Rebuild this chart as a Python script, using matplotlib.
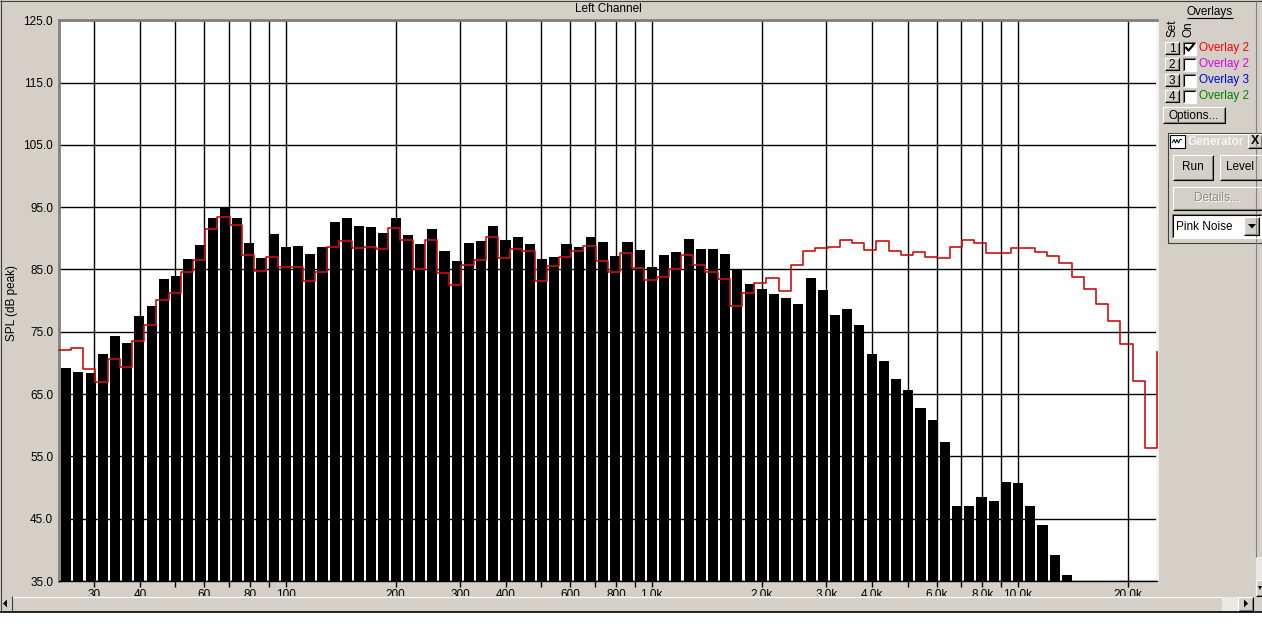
import numpy as np
import matplotlib
matplotlib.use("Agg")
from matplotlib import pyplot as plt
from matplotlib.patches import Rectangle, Polygon
from matplotlib.ticker import NullFormatter

W, H = 1262, 637
GRAY = "#d4d0c8"
DARK = "#808080"

# 1/30-decade bands starting at 24 Hz
band_start_hz = 24.0
bands_per_decade = 30

# measured level per band (dB peak), bars stop at ~13 kHz
spl_bars = [
    69.2, 68.6, 68.4, 71.4, 74.3, 73.2, 77.5, 79.1, 83.4, 84.0,
    86.7, 88.9, 93.3, 95.0, 93.3, 89.2, 86.8, 90.7, 88.6, 88.8,
    87.5, 88.6, 92.6, 93.3, 92.0, 91.8, 90.8, 93.3, 90.5, 89.1,
    91.5, 88.0, 86.4, 89.2, 89.6, 92.0, 89.7, 90.2, 89.1, 86.7,
    87.0, 89.1, 88.6, 90.2, 89.4, 87.2, 89.4, 88.1, 85.4, 87.4,
    87.8, 89.9, 88.3, 88.3, 87.5, 85.0, 82.6, 81.8, 81.1, 80.4,
    79.5, 83.6, 81.7, 77.7, 78.7, 76.1, 71.4, 70.3, 67.4, 65.7,
    62.8, 60.8, 57.3, 47.0, 47.0, 48.5, 47.8, 50.9, 50.7, 47.0,
    44.0, 39.2, 36.0,
]

# overlay 1 (red step trace), one value per band edge
overlay_1 = [
    72.0, 72.4, 69.0, 66.9, 70.7, 69.3, 73.6, 76.1, 80.1, 81.2,
    84.6, 86.5, 91.5, 93.5, 92.1, 87.3, 84.7, 87.0, 85.4, 85.4,
    83.1, 84.6, 88.6, 89.6, 88.4, 88.6, 88.3, 91.6, 89.7, 85.0,
    89.7, 84.4, 82.5, 85.8, 86.5, 90.2, 86.8, 88.3, 88.0, 83.1,
    85.5, 87.0, 88.0, 88.7, 86.3, 84.6, 87.6, 85.2, 83.3, 83.8,
    85.1, 87.4, 85.7, 84.6, 83.4, 79.1, 81.3, 82.8, 83.6, 81.5,
    85.8, 88.0, 88.4, 88.6, 89.7, 89.2, 88.1, 89.5, 87.9, 87.4,
    87.8, 87.0, 86.8, 88.6, 89.8, 89.2, 87.6, 87.6, 88.4, 88.4,
    87.8, 87.1, 86.0, 83.8, 81.8, 79.4, 76.8, 73.0, 67.1, 56.3,
    71.8,
]

tick_major = [30, 40, 60, 80, 100, 200, 300, 400, 600, 800,
              1000, 2000, 3000, 4000, 6000, 8000, 10000, 20000]
tick_labels = ["30", "40", "60", "80", "100", "200", "300", "400", "600", "800",
               "1.0k", "2.0k", "3.0k", "4.0k", "6.0k", "8.0k", "10.0k", "20.0k"]
tick_minor = [50, 70, 90, 500, 700, 900, 5000, 7000, 9000]
y_ticks = [35, 45, 55, 65, 75, 85, 95, 105, 115, 125]

overlay_names = ["Overlay 2", "Overlay 2", "Overlay 3", "Overlay 2"]
overlay_colors = ["#ff0000", "#e000e0", "#0000e0", "#008000"]
overlay_on = [True, False, False, False]

plt.rcParams["font.family"] = ["Liberation Sans", "DejaVu Sans"]
plt.rcParams["font.size"] = 8.5

fig = plt.figure(figsize=(W / 100, H / 100), dpi=100, facecolor=GRAY)

x_left, x_right, y_top, y_bot = 58.7, 1157.0, 20.3, 581.0
ax = fig.add_axes([x_left / W, 1 - y_bot / H, (x_right - x_left) / W, (y_bot - y_top) / H])
ax.set_facecolor("white")

edges = band_start_hz * 10 ** (np.arange(len(overlay_1)) / bands_per_decade)
step = 10 ** (1 / bands_per_decade)
lefts = edges[:len(spl_bars)] * step ** 0.2
rights = edges[:len(spl_bars)] * step ** 1.03
ax.bar(lefts, np.array(spl_bars) - 35, width=rights - lefts, bottom=35,
       align="edge", color="black", linewidth=0, zorder=1)
ax.step(edges, overlay_1, where="post", color="#c81010", lw=1.2, zorder=4, clip_on=False)

ax.set_xscale("log")
ax.set_xlim(band_start_hz, band_start_hz * 1000)
ax.set_ylim(35, 125)
ax.set_xticks(tick_major, labels=tick_labels)
ax.set_xticks(tick_minor, minor=True)
ax.xaxis.set_minor_formatter(NullFormatter())
ax.set_yticks(y_ticks, labels=[f"{v:.1f}" for v in y_ticks])
ax.grid(True, which="both", axis="x", color="black", lw=1.0)
ax.grid(True, which="major", axis="y", color="black", lw=1.0)
ax.tick_params(axis="x", which="both", direction="out", length=4, width=1,
               color="black", pad=2, labelsize=8.5)
ax.tick_params(axis="y", length=0, pad=4, labelsize=8.5)
for side in ["left", "top"]:
    ax.spines[side].set_color(DARK)
    ax.spines[side].set_linewidth(2)
ax.spines["bottom"].set_color("black")
ax.spines["bottom"].set_linewidth(1)
ax.spines["right"].set_color("#f4f4f4")
ax.spines["right"].set_linewidth(2)

# window chrome drawn in pixel coordinates
ui = fig.add_axes([0, 0, 1, 1], zorder=3)
ui.set_xlim(0, W)
ui.set_ylim(H, 0)
ui.axis("off")


def line(xs, ys, color, lw=0.8):
    ui.plot(xs, ys, color=color, lw=lw, solid_capstyle="butt")


def raised(x0, y0, x1, y1, face=GRAY):
    ui.add_patch(Rectangle((x0, y0), x1 - x0, y1 - y0, fc=face, ec="none"))
    line([x0, x0, x1], [y1, y0, y0], "white")
    line([x0, x1, x1], [y1, y1, y0], "black")
    line([x0 + 1, x1 - 1, x1 - 1], [y1 - 1, y1 - 1, y0 + 1], DARK)


def sunken(x0, y0, x1, y1, face="white"):
    ui.add_patch(Rectangle((x0, y0), x1 - x0, y1 - y0, fc=face, ec="none"))
    line([x0, x0, x1], [y1, y0, y0], DARK)
    line([x0, x1, x1], [y1, y1, y0], "white")
    line([x0 + 1, x0 + 1, x1 - 1], [y1 - 1, y0 + 1, y0 + 1], "black")


ui.add_patch(Rectangle((0, 612), W, H - 612, fc="white", ec="none"))
line([0, W], [0.5, 0.5], "#404040")
line([0.5, 0.5], [0, 612], "#404040")

ui.text(608, 9.5, "Left Channel", ha="center", va="center", fontsize=8.5)
ui.text(12, 303, "SPL (dB peak)", ha="center", va="center", rotation=90, fontsize=8.5)

# horizontal scrollbar
ui.add_patch(Rectangle((0, 596), W, 16, fc=GRAY, ec="none"))
line([12, 1222], [596.5, 596.5], "white")
line([0, W], [611.5, 611.5], "black", lw=1.2)
line([11.5, 11.5], [596, 611], "#404040")
ui.add_patch(Polygon([(3, 603.5), (7, 599.5), (7, 607.5)], fc="black", ec="none"))
ui.add_patch(Rectangle((1222, 597), 16, 14, fc="#ebe9e5", ec="none", hatch="....",
                       lw=0))
raised(1238, 597, 1253, 611)
ui.add_patch(Polygon([(1248, 603.5), (1244, 599.5), (1244, 607.5)], fc="black", ec="none"))

# vertical scrollbar edge
line([1255.5, 1255.5], [0, 557], DARK)
ui.add_patch(Rectangle((1256, 557), 6, 23, fc="#ebe9e5", ec="none", hatch="....", lw=0))
raised(1256, 580, 1264, 596)
ui.add_patch(Polygon([(1258, 586), (1262, 586), (1260, 590)], fc="black", ec="none"))

# overlays panel
ui.text(1210, 12, "Overlays", ha="center", va="center", fontsize=8.5)
line([1187, 1233], [18, 18], "black")
ui.text(1173, 28.5, "Set", ha="center", va="center", rotation=90, fontsize=8.5)
ui.text(1188, 29, "On", ha="center", va="center", rotation=90, fontsize=8.5)
for i, (name, col, on) in enumerate(zip(overlay_names, overlay_colors, overlay_on)):
    yc = 48 + 16 * i
    raised(1165, yc - 6, 1179, yc + 6)
    ui.text(1172, yc + 0.5, str(i + 1), ha="center", va="center", fontsize=8.5)
    sunken(1183, yc - 6.5, 1196, yc + 6.5)
    if on:
        line([1185.5, 1188.5, 1194], [yc - 1, yc + 2.5, yc - 4], "black", lw=1.6)
    ui.text(1199, yc + 0.5, name, ha="left", va="center", color=col, fontsize=8.5)

raised(1163, 107, 1225, 123)
ui.text(1194, 115.5, "Options...", ha="center", va="center", fontsize=8.5)

# generator panel
ui.add_patch(Rectangle((1167.5, 132.5), 100, 110, fc="none", ec="#404040", lw=0.8))
line([1168.5, 1262], [133.5, 133.5], "white")
ui.add_patch(Rectangle((1170, 135), 15, 13, fc="white", ec="black", lw=0.8))
line([1172, 1174, 1175.5, 1177, 1178.5, 1180, 1182],
     [143, 139.5, 143, 139.5, 143, 139.5, 139.5], "black", lw=0.7)
ui.text(1188, 142, "Generator", ha="left", va="center", color="#f6f6f6",
        fontweight="bold", fontsize=8.5)
raised(1248, 134, 1262, 148)
ui.text(1255, 141.5, "X", ha="center", va="center", fontweight="bold", fontsize=9)

raised(1173, 155, 1213, 180)
ui.text(1193, 167.5, "Run", ha="center", va="center", fontsize=8.5)
raised(1220, 155, 1264, 180)
ui.text(1240, 167.5, "Level", ha="center", va="center", fontsize=8.5)
raised(1173, 187, 1264, 210)
ui.text(1218, 198.8, "Details...", ha="center", va="center", color="white", fontsize=8.5)
ui.text(1217, 198, "Details...", ha="center", va="center", color="#8c8a86", fontsize=8.5)
sunken(1172, 214, 1262, 238)
ui.text(1176, 226.5, "Pink Noise", ha="left", va="center", fontsize=8.5)
raised(1244, 217, 1259, 235)
ui.add_patch(Polygon([(1248, 224), (1256, 224), (1252, 228.5)], fc="black", ec="none"))

fig.savefig("out.png", dpi=100, facecolor=GRAY)
